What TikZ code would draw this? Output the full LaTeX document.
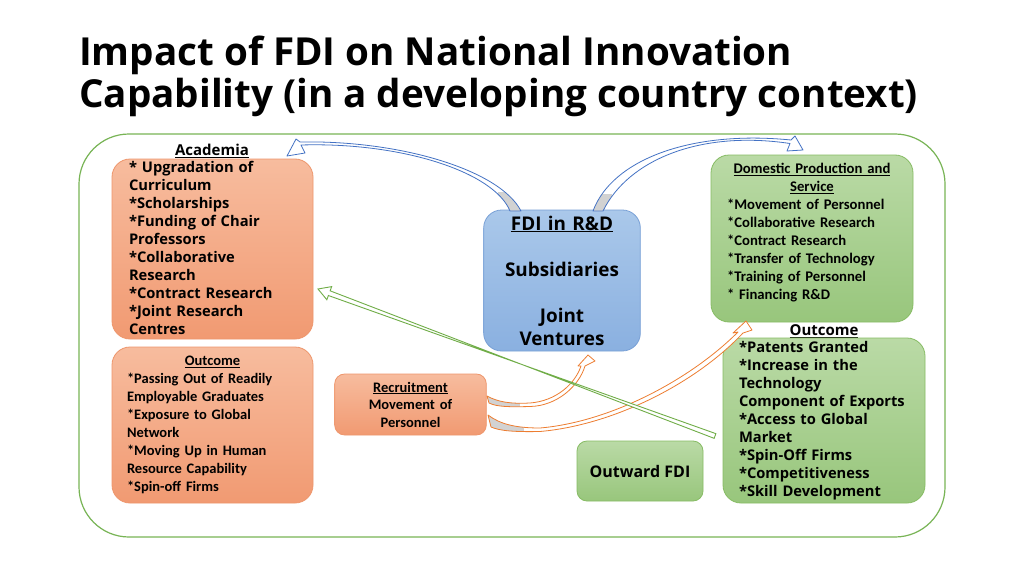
\documentclass[tikz,border=0pt]{standalone}
\usepackage{fontspec}
\setmainfont{Open Sans}
\newfontfamily\calib{Carlito}
\usetikzlibrary{calc}
\definecolor{frameG}{RGB}{120,180,85}
\definecolor{salT}{RGB}{247,188,158}
\definecolor{salB}{RGB}{241,154,114}
\definecolor{salD}{RGB}{238,150,108}
\definecolor{bluT}{RGB}{170,200,234}
\definecolor{bluB}{RGB}{138,176,224}
\definecolor{bluD}{RGB}{120,160,214}
\definecolor{grnT}{RGB}{186,218,166}
\definecolor{grnB}{RGB}{152,198,124}
\definecolor{grnD}{RGB}{135,188,100}
\definecolor{arrB}{RGB}{68,114,196}
\definecolor{arrO}{RGB}{237,125,49}
\definecolor{arrG}{RGB}{112,173,71}
\newcommand{\ctr}[1]{\makebox[\hsize][c]{#1}}
\tikzset{
  basebox/.style={rounded corners=18pt, line width=0.8pt, inner ysep=0pt},
  salbox/.style={basebox, draw=salD, top color=salT, bottom color=salB},
  blubox/.style={basebox, draw=bluD, top color=bluT, bottom color=bluB},
  grnbox/.style={basebox, draw=grnD, top color=grnT, bottom color=grnB},
  osb/.style={font=\bfseries\fontsize{14.7}{18}\selectfont},
  cab/.style={font=\calib\bfseries\fontsize{14.5}{18}\selectfont},
  ribbon/.style={line width=0.8pt, fill=white, line join=round},
}
\begin{document}
\begin{tikzpicture}[x=1pt,y=-1pt]
\useasboundingbox[fill=white] (0,0) rectangle (1024,575);

% title
\node[anchor=base west, inner sep=0pt, font=\bfseries\fontsize{38.6}{42}\selectfont] (t1) at (79,66) {Impact of FDI on National Innovation};
\node[anchor=base west, inner sep=0pt, font=\bfseries\fontsize{38.6}{42}\selectfont] (t2) at (79,108) {Capability (in a developing country context)};

% outer frame
\node[draw=frameG, line width=1.2pt, rounded corners=50pt, minimum width=866, minimum height=403, inner sep=0pt] (frame) at (512,335.5) {};

% Academia
\node[font=\bfseries\fontsize{15}{18}\selectfont, inner sep=0pt] (acadlbl) at (212,151) {\underline{Academia}};
\node[salbox, osb, minimum width=201, minimum height=180, inner xsep=17pt, text width=167pt, align=left] (acad) at (212.5,249) {%
* Upgradation of\\Curriculum\\{}*Scholarships\\{}*Funding of Chair\\Professors\\{}*Collaborative\\Research\\{}*Contract Research\\{}*Joint Research\\Centres\rule[-2pt]{0pt}{2pt}};

% Left outcome
\node[salbox, cab, minimum width=201, minimum height=156, inner xsep=15pt, text width=171pt, align=left] (outL) at (212.5,425) {%
\ctr{\underline{Outcome}}\\
{}*Passing Out of Readily\\Employable Graduates\\{}*Exposure to Global\\Network\\{}*Moving Up in Human\\Resource Capability\\{}*Spin-off Firms};

% FDI box
\node[blubox, font=\bfseries\fontsize{18.9}{23}\selectfont, minimum width=156, minimum height=141, text width=150pt, align=center] (fdi) at (562,280.5) {%
\underline{FDI in R\&D}\\[23pt]Subsidiaries\\[23pt]Joint\\Ventures};

% Domestic production
\node[grnbox, font=\calib\bfseries\fontsize{14.7}{18}\selectfont, minimum width=202, minimum height=167, inner xsep=16pt, text width=170pt, align=left] (dom) at (812,238.5) {%
\ctr{\underline{Domestic Production and}}\\
\ctr{\underline{Service}}\\
{}*Movement of Personnel\\{}*Collaborative Research\\{}*Contract Research\\{}*Transfer of Technology\\{}*Training of Personnel\\{}* Financing R\&D\rule[-14pt]{0pt}{14pt}};

% Right outcome
\node[font=\bfseries\fontsize{15}{18}\selectfont, inner sep=0pt] (outRlbl) at (824,331) {\underline{Outcome}};
\node[grnbox, osb, minimum width=202, minimum height=165, inner xsep=16pt, text width=170pt, align=left] (outR) at (824,420.5) {%
*Patents Granted\\{}*Increase in the\\Technology\\Component of Exports\\{}*Access to Global\\Market\\{}*Spin-Off Firms\\{}*Competitiveness\\{}*Skill Development};

% Recruitment
\node[salbox, rounded corners=10pt, font=\calib\bfseries\fontsize{14.5}{17.5}\selectfont, minimum width=151, minimum height=61, text width=145pt, align=center] (recr) at (410.5,404.5) {%
\underline{Recruitment}\\Movement of\\Personnel};

% Outward FDI
\node[grnbox, rounded corners=10pt, font=\bfseries\fontsize{16}{20}\selectfont, minimum width=126, minimum height=60] (outw) at (640,471) {Outward FDI};

% ---- connectors ----
% blue: FDI -> Academia
\coordinate (bLe) at (287,156);
\draw[ribbon, draw=arrB, path picture={\fill[gray!35] (498,192) rectangle (530,215);}]
  (521,211) .. controls (500,170) and (400,140) .. (300,142) -- (296,139) -- (bLe) -- (305,153) -- (301,145)
  .. controls (402,142) and (494,172) .. (510,211) -- cycle;
% blue: FDI -> Domestic
\coordinate (bRe) at (803,150);
\draw[ribbon, draw=arrB, path picture={\fill[gray!35] (585,194) rectangle (612,215);}]
  (593,211) .. controls (612,160) and (690,130) .. (791,140) -- (795,136) -- (bRe) -- (787,151) -- (790,143.5)
  .. controls (700,130) and (628,160) .. (603,211) -- cycle;
% orange: Recruitment -> FDI
\coordinate (o1e) at (588,355);
\draw[ribbon, draw=arrO, path picture={\fill[gray!35] (480,390) rectangle (520,412);}]
  (487,396) .. controls (498,402) and (510,404) .. (530,403) .. controls (556,401) and (575,384) .. (581,366)
  -- (578,366) -- (o1e) -- (595,361) -- (585,366)
  .. controls (579,386) and (557,406) .. (530,406.5) .. controls (510,407) and (497,407) .. (489,403) -- cycle;
% orange: Recruitment -> Domestic
\coordinate (o2e) at (746,321);
\draw[ribbon, draw=arrO, path picture={\fill[gray!35] (480,410) rectangle (524,435);}]
  (488,415) .. controls (500,424) and (515,428) .. (540,428) .. controls (610,422) and (690,380) .. (738,332)
  -- (733,333) -- (o2e) -- (752,330) -- (743,333)
  .. controls (696,383) and (614,425) .. (540,431.5) .. controls (515,432) and (500,431) .. (491,427) -- cycle;
% green: Outward FDI -> Academia
\coordinate (gT) at (715,436);
\coordinate (gP) at (318,289);
\coordinate (gB) at ($(gP)!12pt!(gT)$);
\draw[line width=0.9pt, draw=arrG, fill=white, line join=miter]
  ($(gT)!2.5pt!90:(gP)$) -- ($(gB)!2.5pt!-90:(gP)$) -- ($(gB)!7pt!-90:(gP)$) -- (gP)
  -- ($(gB)!7pt!90:(gP)$) -- ($(gB)!2.5pt!90:(gP)$) -- ($(gT)!2.5pt!-90:(gP)$) -- cycle;
\end{tikzpicture}
\end{document}
